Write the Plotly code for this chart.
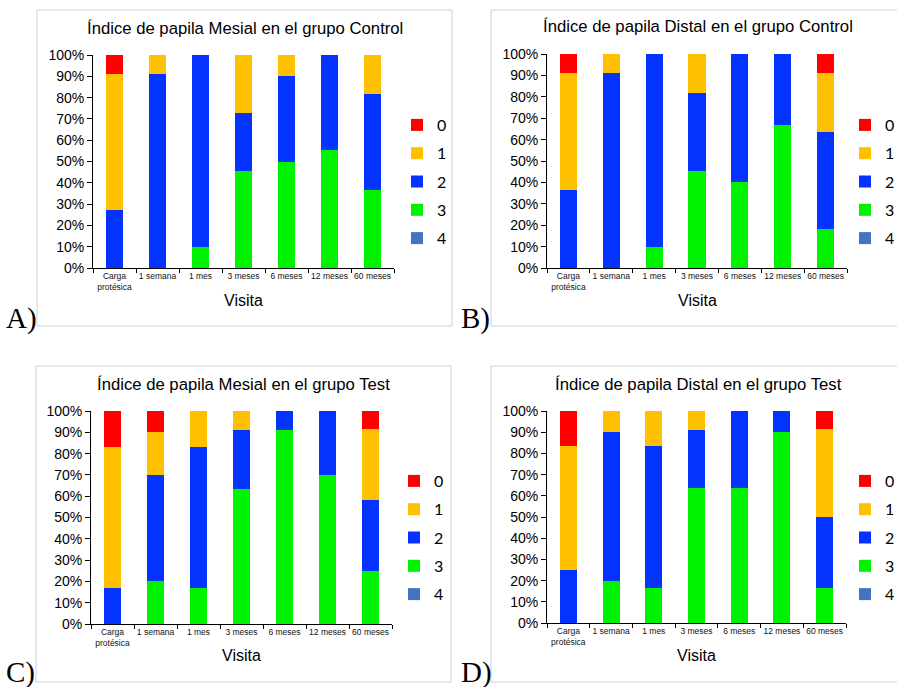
import plotly.graph_objects as go

W, H = 897, 687

visits = ["Carga<br>protésica", "1 semana", "1 mes", "3 meses", "6 meses", "12 meses", "60 meses"]
levels = ["0", "1", "2", "3", "4"]
colors = {"0": "#FF0000", "1": "#FFC000", "2": "#0433FF", "3": "#00F200", "4": "#4472C4"}

# A) Mesial - Control (percent of patients per score)
mc_0 = [9.1, 0, 0, 0, 0, 0, 0]
mc_1 = [63.6, 9.1, 0, 27.3, 10, 0, 18.2]
mc_2 = [27.3, 90.9, 90, 27.3, 40, 44.4, 45.4]
mc_3 = [0, 0, 10, 45.4, 50, 55.6, 36.4]
mc_4 = [0, 0, 0, 0, 0, 0, 0]

# B) Distal - Control
dc_0 = [9.1, 0, 0, 0, 0, 0, 9.1]
dc_1 = [54.5, 9.1, 0, 18.2, 0, 0, 27.3]
dc_2 = [36.4, 90.9, 90, 36.4, 60, 33.3, 45.4]
dc_3 = [0, 0, 10, 45.4, 40, 66.7, 18.2]
dc_4 = [0, 0, 0, 0, 0, 0, 0]

# C) Mesial - Test
mt_0 = [16.7, 10, 0, 0, 0, 0, 8.3]
mt_1 = [66.6, 20, 16.7, 9.1, 0, 0, 33.4]
mt_2 = [16.7, 50, 66.6, 27.3, 9.1, 30, 33.3]
mt_3 = [0, 20, 16.7, 63.6, 90.9, 70, 25]
mt_4 = [0, 0, 0, 0, 0, 0, 0]

# D) Distal - Test
dt_0 = [16.7, 0, 0, 0, 0, 0, 8.3]
dt_1 = [58.3, 10, 16.7, 9.1, 0, 0, 41.7]
dt_2 = [25, 70, 66.6, 27.3, 36.4, 10, 33.3]
dt_3 = [0, 20, 16.7, 63.6, 63.6, 90, 16.7]
dt_4 = [0, 0, 0, 0, 0, 0, 0]

panels = [
    dict(title="Índice de papila Mesial en el grupo Control", letter="A)",
         data={"0": mc_0, "1": mc_1, "2": mc_2, "3": mc_3, "4": mc_4},
         plot=(93, 394, 55, 268), box=(37, 452, 10, 326), title_xy=(245, 28),
         vis_xy=(243, 300), leg_xy=(397, 108), let_xy=(4, 318)),
    dict(title="Índice de papila Distal en el grupo Control", letter="B)",
         data={"0": dc_0, "1": dc_1, "2": dc_2, "3": dc_3, "4": dc_4},
         plot=(547, 847, 54, 268), box=(491, 905, 10, 326), title_xy=(698, 27),
         vis_xy=(697, 300), leg_xy=(845, 108), let_xy=(459, 318)),
    dict(title="Índice de papila Mesial en el grupo Test", letter="C)",
         data={"0": mt_0, "1": mt_1, "2": mt_2, "3": mt_3, "4": mt_4},
         plot=(91, 392, 411, 624), box=(36, 451, 366, 682), title_xy=(243, 384),
         vis_xy=(241, 655), leg_xy=(394, 464), let_xy=(4, 672)),
    dict(title="Índice de papila Distal en el grupo Test", letter="D)",
         data={"0": dt_0, "1": dt_1, "2": dt_2, "3": dt_3, "4": dt_4},
         plot=(547, 846, 411, 623), box=(491, 905, 366, 682), title_xy=(698, 384),
         vis_xy=(696, 655), leg_xy=(845, 464), let_xy=(459, 672)),
]

def px(x):
    return x / W

def py(y):
    return 1 - y / H

fig = go.Figure()
layout = dict(
    width=W, height=H, margin=dict(l=0, r=0, t=0, b=0, autoexpand=False),
    paper_bgcolor="white", plot_bgcolor="white",
    barmode="stack", bargap=0.6,
    font=dict(family="Liberation Sans, Arial, sans-serif", color="#000"),
    annotations=[], shapes=[],
)

for i, p in enumerate(panels):
    n = "" if i == 0 else str(i + 1)
    xa, ya = "x" + n, "y" + n
    leg = "legend" + n
    for lv in ["4", "3", "2", "1", "0"]:
        fig.add_trace(go.Bar(
            x=visits, y=p["data"][lv], name=lv, xaxis=xa, yaxis=ya,
            marker=dict(color=colors[lv], line=dict(width=0)),
            legend=leg, legendgroup=leg + lv, legendrank=100 + int(lv),
            hovertemplate="%{x}: %{y}%<extra>" + lv + "</extra>",
        ))
    x0, x1, y0, y1 = p["plot"]
    layout["xaxis" + n] = dict(
        domain=[px(x0), px(x1)], anchor=ya, type="category",
        range=[-0.5, 6.5], showline=True, linecolor="#000", linewidth=1,
        ticks="outside", tickson="boundaries", ticklen=4, tickcolor="#000",
        tickangle=0, automargin=False,
        tickfont=dict(size=8.5, color="#111"), showgrid=False, fixedrange=True,
    )
    layout["yaxis" + n] = dict(
        domain=[py(y1), py(y0)], anchor=xa, range=[0, 100], dtick=10,
        ticksuffix="%", showline=True, linecolor="#000", linewidth=1,
        ticks="outside", ticklen=5, tickcolor="#000", automargin=False,
        tickfont=dict(size=14), showgrid=False, zeroline=False, fixedrange=True,
    )
    lx, ly = p["leg_xy"]
    layout[leg] = dict(
        x=px(lx), y=py(ly), xanchor="left", yanchor="top",
        font=dict(family="Lato, Open Sans, sans-serif", size=16),
        tracegroupgap=4.5, itemwidth=30, bgcolor="rgba(0,0,0,0)",
        traceorder="grouped",
    )
    bx0, bx1, by0, by1 = p["box"]
    layout["shapes"].append(dict(
        type="rect", xref="paper", yref="paper",
        x0=px(bx0), x1=px(bx1), y0=py(by1), y1=py(by0),
        line=dict(color="#CFCFCF", width=1), fillcolor="rgba(0,0,0,0)",
    ))
    tx, ty = p["title_xy"]
    layout["annotations"].append(dict(
        text=p["title"], x=px(tx), y=py(ty), xref="paper", yref="paper",
        xanchor="center", yanchor="middle", showarrow=False,
        font=dict(size=16.7),
    ))
    vx, vy = p["vis_xy"]
    layout["annotations"].append(dict(
        text="Visita", x=px(vx), y=py(vy), xref="paper", yref="paper",
        xanchor="center", yanchor="middle", showarrow=False,
        font=dict(size=16),
    ))
    lx2, ly2 = p["let_xy"]
    layout["annotations"].append(dict(
        text=p["letter"], x=px(lx2), y=py(ly2), xref="paper", yref="paper",
        xanchor="left", yanchor="middle", showarrow=False,
        font=dict(family="Liberation Serif, Times New Roman, serif", size=29),
    ))

fig.update_layout(**layout)
fig.write_html(
    "out.html",
    config={"displayModeBar": False},
    post_script="document.body.style.margin='0';document.body.style.overflow='hidden';",
)
